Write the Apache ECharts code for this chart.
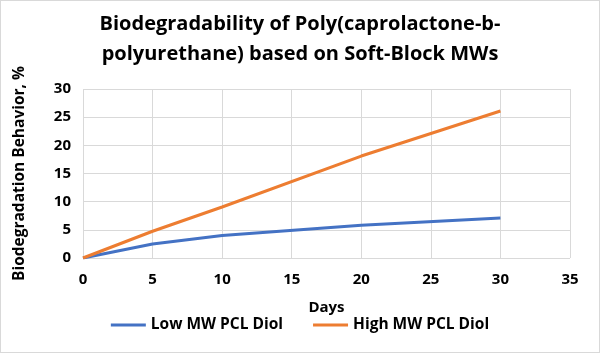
<!DOCTYPE html>
<html>
<head>
<meta charset="utf-8">
<script src="https://cdn.jsdelivr.net/npm/echarts@6/dist/echarts.min.js"></script>
<style>
  html, body { margin: 0; padding: 0; background: #fff; }
  #chart { width: 598px; height: 351px; border: 1px solid #d9d9d9; }
</style>
</head>
<body>
<div id="chart"></div>
<script>
// days on the x axis
const days = [0, 5, 10, 20, 30];
const lowMw = [0, 2.5, 4.0, 5.8, 7.1];
const highMw = [0, 4.75, 9.05, 18.1, 26.1];
const seriesNames = ['Low MW PCL Diol', 'High MW PCL Diol'];

const font = 'Open Sans, sans-serif';
const toPairs = (xs, ys) => xs.map((x, i) => [x, ys[i]]);

const chart = echarts.init(document.getElementById('chart'));
chart.setOption({
  animation: false,
  title: {
    text: 'Biodegradability of Poly(caprolactone-b-\npolyurethane) based on Soft-Block MWs',
    left: 'center',
    top: 3,
    textStyle: { fontFamily: font, fontWeight: 'bold', fontSize: 20, lineHeight: 30, color: '#000' }
  },
  grid: { left: 82, right: 29, top: 88, bottom: 94 },
  legend: {
    bottom: 14,
    itemWidth: 35,
    itemHeight: 3,
    itemGap: 30,
    icon: 'rect',
    textStyle: { fontFamily: font, fontWeight: 'bold', fontSize: 15.5, color: '#000' },
    data: seriesNames
  },
  xAxis: {
    type: 'value',
    min: 0, max: 35, interval: 5,
    name: 'Days',
    nameLocation: 'middle',
    nameGap: 42,
    nameTextStyle: { fontFamily: font, fontWeight: 'bold', fontSize: 15, color: '#000' },
    axisLine: { show: false },
    axisTick: { show: false },
    axisLabel: { fontFamily: font, fontWeight: 'bold', fontSize: 15, color: '#000', margin: 14 },
    splitLine: { show: true, lineStyle: { color: '#d9d9d9' } }
  },
  yAxis: {
    type: 'value',
    min: 0, max: 30, interval: 5,
    name: 'Biodegradation Behavior, %',
    nameLocation: 'middle',
    nameGap: 55,
    nameTextStyle: { fontFamily: font, fontWeight: 'bold', fontSize: 15.5, color: '#000' },
    axisLine: { show: false },
    axisTick: { show: false },
    axisLabel: { fontFamily: font, fontWeight: 'bold', fontSize: 15, color: '#000', margin: 12 },
    splitLine: { show: true, lineStyle: { color: '#d9d9d9' } }
  },
  series: [
    {
      name: seriesNames[0], type: 'line', data: toPairs(days, lowMw),
      showSymbol: false, lineStyle: { width: 3, color: '#4472c4' }, itemStyle: { color: '#4472c4' }
    },
    {
      name: seriesNames[1], type: 'line', data: toPairs(days, highMw),
      showSymbol: false, lineStyle: { width: 3, color: '#ed7d31' }, itemStyle: { color: '#ed7d31' }
    }
  ]
});
</script>
</body>
</html>
